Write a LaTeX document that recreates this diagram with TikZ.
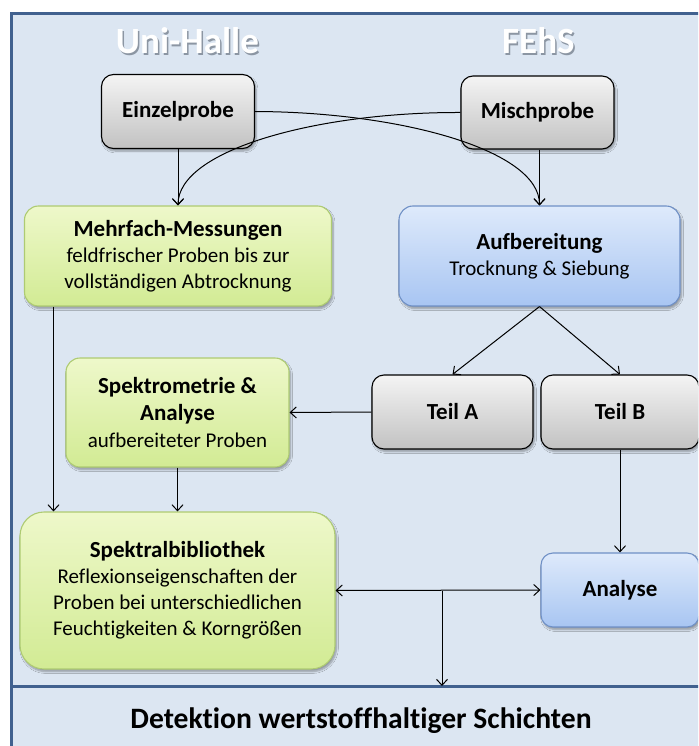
\documentclass[tikz,border=0pt]{standalone}
\usepackage{fontspec}
\setmainfont{Carlito}[Ligatures=NoCommon]
\usetikzlibrary{arrows.meta,shadows.blur,calc}

\definecolor{panel}{HTML}{DCE6F2}
\definecolor{framecol}{HTML}{41618F}
\definecolor{grayTop}{HTML}{F4F4F4}
\definecolor{grayBot}{HTML}{C2C2C2}
\definecolor{greenTop}{HTML}{EEF8CA}
\definecolor{greenBot}{HTML}{D2EB94}
\definecolor{greenLine}{HTML}{AECB72}
\definecolor{blueTop}{HTML}{DEEAFB}
\definecolor{blueBot}{HTML}{A8C5F2}
\definecolor{blueLine}{HTML}{6F90C6}
\definecolor{headShadow}{HTML}{8C96A3}

\newcommand{\ttl}[1]{{\bfseries\fontsize{23}{26}\selectfont #1}}
% white heading over a grey copy shifted down and right
\newcommand{\shadowtext}[1]{\rlap{\kern1.5pt\raisebox{-1.5pt}{\textcolor{headShadow}{#1}}}\textcolor{white}{#1}}

\begin{document}
\begin{tikzpicture}[x=1pt,y=-1pt,
  box/.style={rectangle, rounded corners=#1, align=center, inner sep=0pt,
    text=black, font=\fontsize{21}{26}\selectfont,
    blur shadow={shadow xshift=1.5pt, shadow yshift=-2.5pt,
      shadow blur steps=6, shadow opacity=35}},
  box/.default=12pt,
  graybox/.style={box=#1, draw=black, line width=1.1pt,
    top color=grayTop, bottom color=grayBot},
  graybox/.default=12pt,
  greenbox/.style={box=#1, draw=greenLine, line width=1.1pt,
    top color=greenTop, bottom color=greenBot},
  greenbox/.default=14pt,
  bluebox/.style={box=#1, draw=blueLine, line width=1.1pt,
    top color=blueTop, bottom color=blueBot},
  bluebox/.default=14pt,
  conn/.style={draw=black, line width=1pt,
    -{Straight Barb[length=6pt,width=11pt]}},
  both/.style={draw=black, line width=1pt,
    {Straight Barb[length=6pt,width=11pt]}-{Straight Barb[length=6pt,width=11pt]}},
  head/.style={font=\bfseries\fontsize{37}{37}\selectfont, inner sep=0pt},
]

\path[use as bounding box] (0,0) rectangle (698,746);
\clip (0,0) rectangle (698,746);

% outer panel and the separating rule above the result line
\draw[framecol, line width=3pt, fill=panel] (11,14) rectangle (712,762);
\coordinate (sepL) at (11,686);
\coordinate (sepR) at (712,686);
\draw[framecol, line width=3pt] (sepL) -- (sepR);

% column headings
\node[head] (uni) at (187.4,41.7) {\shadowtext{Uni-Halle}};
\node[head] (fehs) at (538.4,41.7) {\shadowtext{FEhS}};

% sample nodes
\node[graybox, minimum width=153pt, minimum height=74pt] (einzel) at (178,111.5) {\ttl{Einzelprobe}};
\node[graybox, minimum width=153pt, minimum height=73pt] (misch) at (537.5,112.5) {\ttl{Mischprobe}};

% processing
\node[greenbox, minimum width=307pt, minimum height=100pt] (mehr) at (178,256)
  {\ttl{Mehrfach-Messungen}\\feldfrischer Proben bis zur\\vollständigen Abtrocknung};
\node[bluebox, minimum width=281pt, minimum height=100pt] (aufb) at (539.5,256)
  {\ttl{Aufbereitung}\\Trocknung \& Siebung};

\node[graybox, minimum width=161pt, minimum height=74pt] (teilA) at (452.5,412) {\ttl{Teil A}};
\node[graybox, minimum width=158pt, minimum height=74pt] (teilB) at (620,412) {\ttl{Teil B}};

\node[greenbox, minimum width=223pt, minimum height=109pt] (spektro) at (177.5,412.5)
  {\ttl{Spektrometrie \&}\\[1pt]\ttl{Analyse}\\[1pt]aufbereiteter Proben};

\node[greenbox=24pt, minimum width=315pt, minimum height=157pt] (spbib) at (177.5,590.5)
  {\ttl{Spektralbibliothek}\\Reflexionseigenschaften der\\Proben bei unterschiedlichen\\Feuchtigkeiten \& Korngrößen};

\node[bluebox=12pt, minimum width=158pt, minimum height=74pt] (analyse) at (620,590) {\ttl{Analyse}};

% result line
\node[font=\bfseries\fontsize{29.6}{29.6}\selectfont, inner sep=0pt] (detekt) at (361,721)
  {Detektion wertstoffhaltiger Schichten};

% connectors
\draw[conn] (einzel.south) -- (mehr.north);
\draw[conn] (misch.south -| aufb.north) -- (aufb.north);
\draw[conn] (einzel.east) .. controls (400,112) and (539.5,150) .. (aufb.north);
\draw[conn] (misch.west) .. controls (317,112) and (178,150) .. (mehr.north);

\draw[conn] (aufb.south) -- (teilA.north);
\draw[conn] (aufb.south) -- (teilB.north);
\draw[conn] (teilA.west) -- (spektro.east);

\coordinate (mx) at (53.5,0);
\draw[conn] (mehr.south -| mx) -- (spbib.north -| mx);
\draw[conn] (spektro.south) -- (spbib.north);
\draw[conn] (teilB.south) -- (analyse.north);

\draw[both] (spbib.east) -- (analyse.west);
\coordinate (jx) at (442,0);
\draw[conn] (spbib.east -| jx) -- (sepL -| jx);
\end{tikzpicture}
\end{document}
